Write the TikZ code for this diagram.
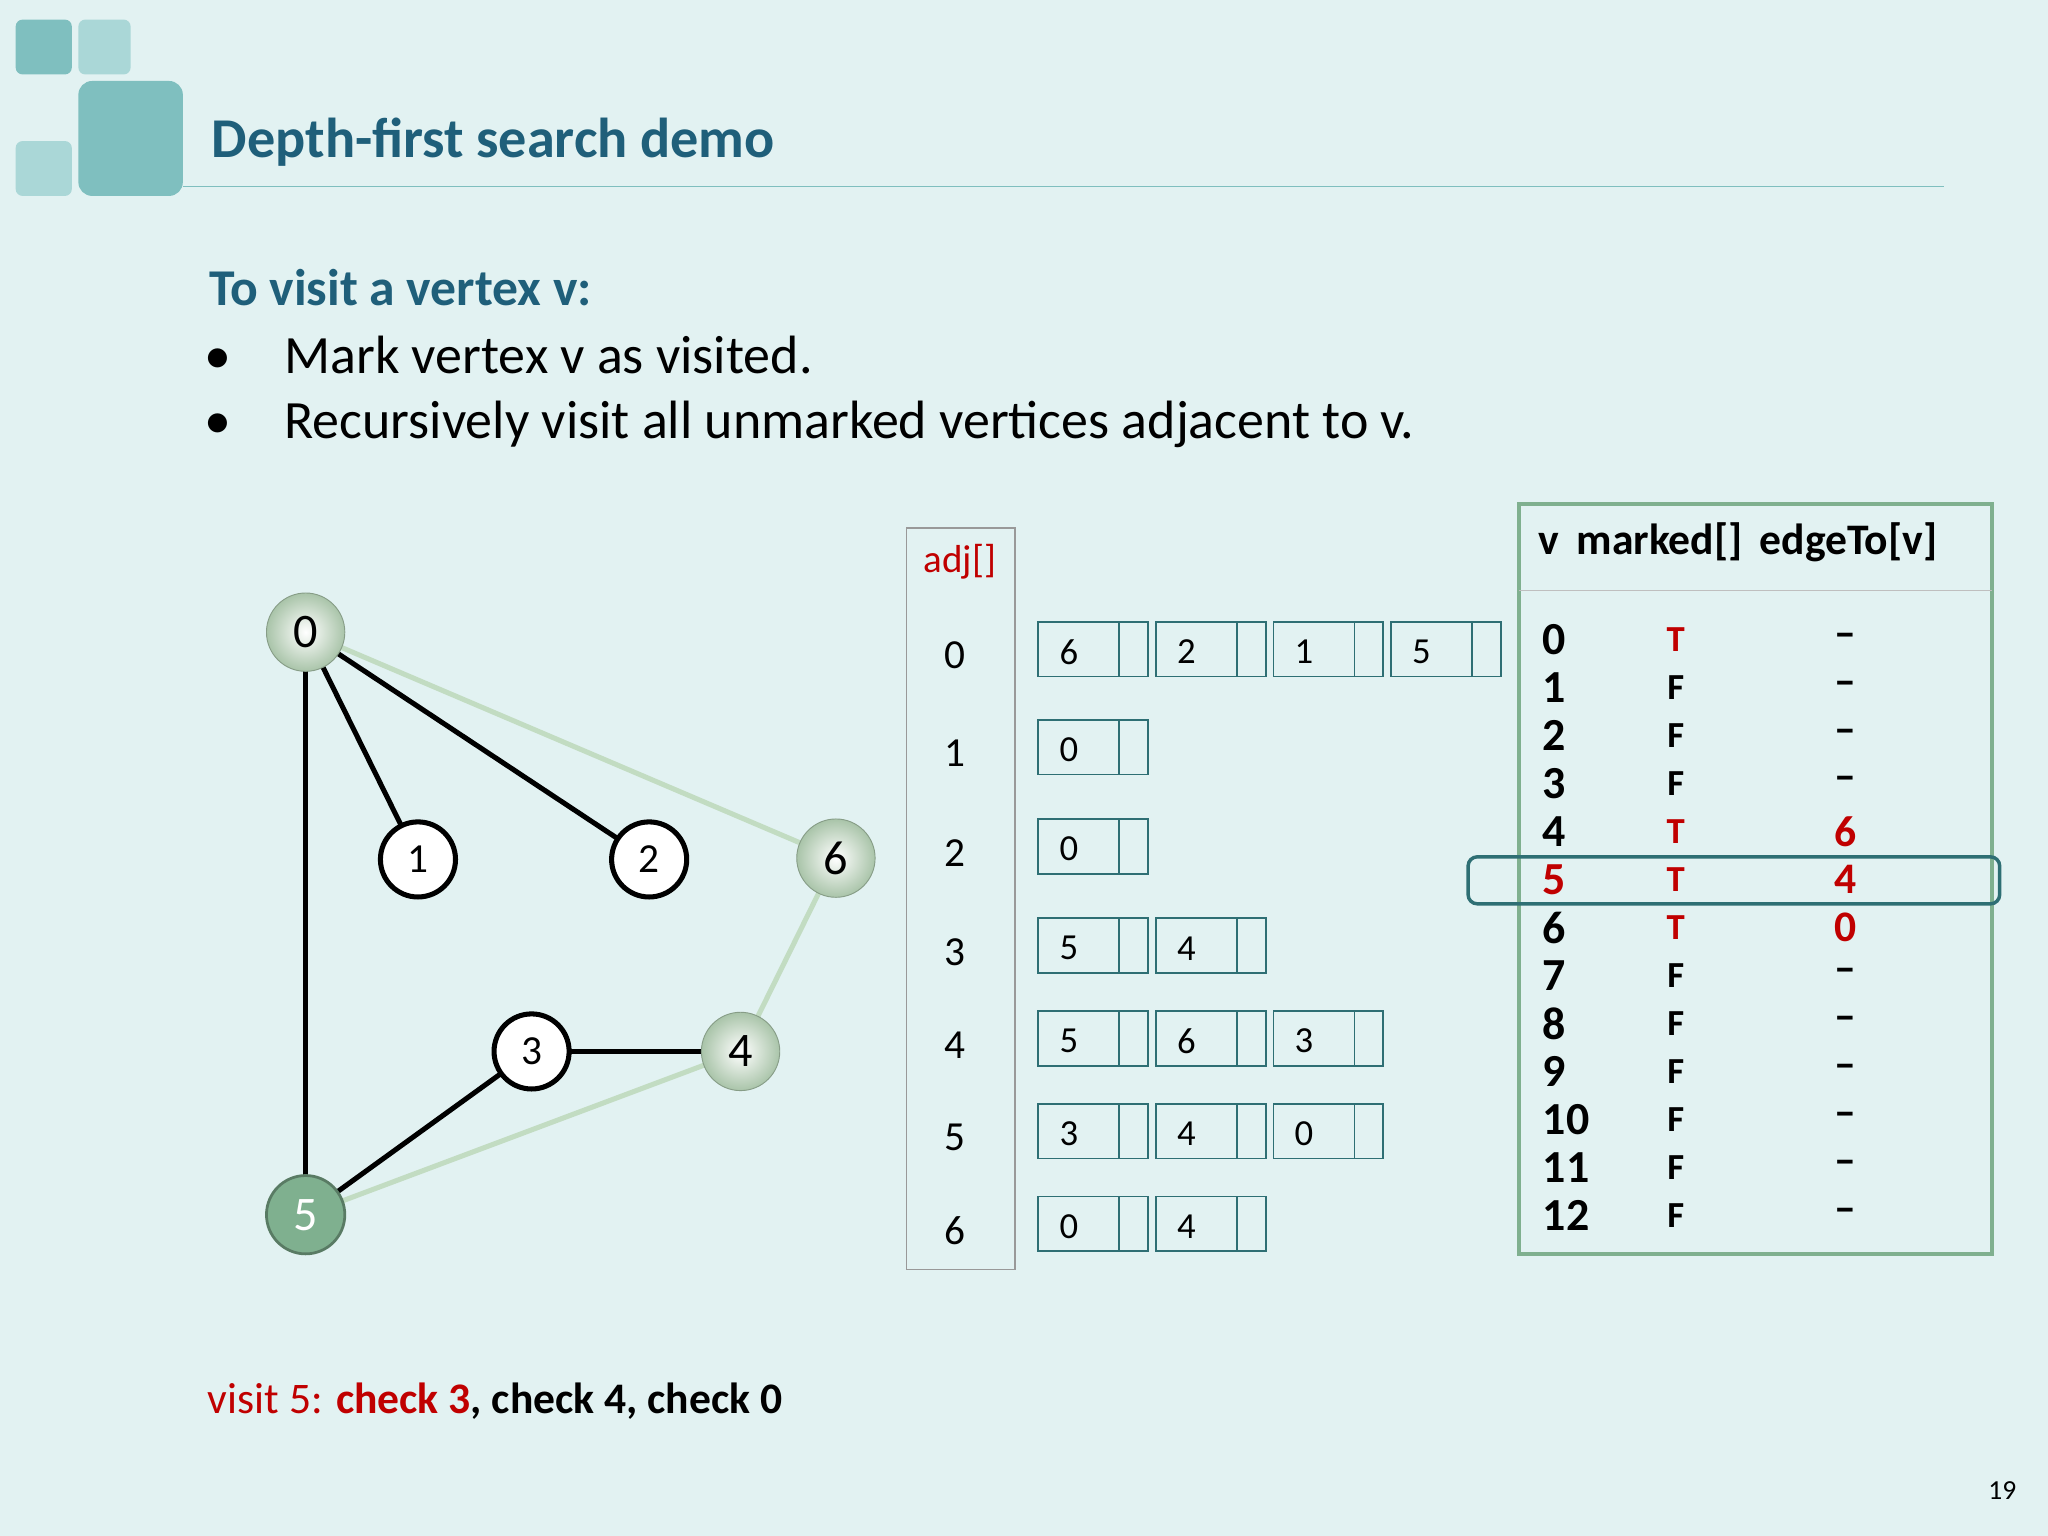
\documentclass[tikz,border=0pt]{standalone}
\usepackage{fontspec}
\setmainfont{Carlito}
\begin{document}
\begin{tikzpicture}[x=0.02cm,y=-0.02cm,
  wn/.style={circle,draw=black,line width=2.2pt,fill=white,minimum size=1.15cm,inner sep=0pt,font=\fontsize{18}{18}\selectfont},
  gn/.style={circle,shade,inner color=white,outer color=gnc,draw=gnc!80!black,line width=0.4pt,minimum size=1.2cm,inner sep=0pt,font=\fontsize{21}{21}\selectfont},
  be/.style={line width=2.2pt,black},
  le/.style={line width=2.2pt,lgc},
  cell/.style={draw=tealb,line width=0.8pt},
  idx/.style={font=\fontsize{18}{18}\selectfont},
  ce/.style={font=\fontsize{16}{16}\selectfont,anchor=west},
  tb/.style={font=\fontsize{19}{19}\selectfont\bfseries}]
\definecolor{bg}{HTML}{E2F2F2}
\definecolor{sq1}{HTML}{7FBFBF}
\definecolor{sq2}{HTML}{AAD7D7}
\definecolor{ttl}{HTML}{1F5F7A}
\definecolor{gnc}{HTML}{A9C4A9}
\definecolor{lgc}{HTML}{C2DCC2}
\definecolor{tealb}{HTML}{2E6F74}
\definecolor{rd}{HTML}{C00000}
\definecolor{grb}{HTML}{7FB08F}
\fill[bg] (0,0) rectangle (1568,1176);
\useasboundingbox (0,0) rectangle (1568,1176);
\fill[sq1,rounded corners=3pt] (12,15) rectangle (55,57);
\fill[sq2,rounded corners=3pt] (60,15) rectangle (100,57);
\fill[sq1,rounded corners=6pt] (60,62) rectangle (140,150);
\fill[sq2,rounded corners=3pt] (12,108) rectangle (55,150);
\draw[sq1,line width=0.6pt] (140,143) -- (1488,143);
\node[anchor=west,text=ttl,font=\fontsize{24.5}{24}\selectfont\bfseries] (title) at (156,109) {Depth-first search demo};
\node[anchor=west,text=ttl,font=\fontsize{22.5}{22}\selectfont\bfseries] (h) at (154,220) {To visit a vertex v:};
\node[anchor=west,font=\fontsize{23.5}{23}\selectfont] (b1) at (150,272) {\textbullet\hspace{0.82cm}Mark vertex v as visited.};
\node[anchor=west,font=\fontsize{23.5}{23}\selectfont] (b2) at (150,325) {\textbullet\hspace{0.82cm}Recursively visit all unmarked vertices adjacent to v.};
% graph
\coordinate (p0) at (234,484); \coordinate (p1) at (320,658); \coordinate (p2) at (497,658);
\coordinate (p6) at (640,657); \coordinate (p3) at (407,805); \coordinate (p4) at (567,805); \coordinate (p5) at (234,930);
\draw[le] (p0) -- (p6); \draw[le] (p6) -- (p4); \draw[le] (p5) -- (p4);
\draw[be] (p0) -- (p1); \draw[be] (p0) -- (p2); \draw[be] (p0) -- (p5);
\draw[be] (p3) -- (p4); \draw[be] (p5) -- (p3);
\node[gn] (n0) at (p0) {0};
\node[wn] (n1) at (p1) {1};
\node[wn] (n2) at (p2) {2};
\node[gn] (n6) at (p6) {6};
\node[wn] (n3) at (p3) {3};
\node[gn] (n4) at (p4) {4};
\node[circle,draw=grb!70!black,line width=1.2pt,fill=grb,minimum size=1.2cm,inner sep=0pt,text=white,font=\fontsize{21}{21}\selectfont] (n5) at (p5) {5};
% adj
\draw[draw=gray!80,line width=0.8pt] (694,404) rectangle (777,972);
\node[text=rd,font=\fontsize{17}{17}\selectfont] (adj) at (735,430) {adj[]};
\foreach \i/\y in {0/497,1/572,2/648,3/724,4/795,5/866,6/937}{\node[idx] (i\i) at (731,\y+5) {\i};}
\foreach \r/\y/\lst in {0/497/{6,2,1,5},1/572/{0},2/648/{0},3/724/{5,4},4/795/{5,6,3},5/866/{3,4,0},6/937/{0,4}}{
  \foreach \v [count=\k from 0] in \lst {
    \pgfmathsetmacro{\xx}{795+90*\k}
    \draw[cell] (\xx,\y-21) rectangle (\xx+62,\y+21);
    \draw[cell] (\xx+62,\y-21) rectangle (\xx+84,\y+21);
    \node[ce] (c\r\k) at (\xx+10,\y+2) {\v};
  }}
% table
\draw[grb,line width=1.5pt] (1163,386) rectangle (1525,960);
\draw[gray!50,line width=0.6pt] (1163,452) -- (1525,452);
\node[tb,anchor=west] (hd) at (1172,415) {v\, marked[]\, edgeTo[v]};
\foreach \v/\m/\e [count=\k from 0] in {0/T/--,1/F/--,2/F/--,3/F/--,4/T/6,5/T/4,6/T/0,7/F/--,8/F/--,9/F/--,10/F/--,11/F/--,12/F/--}{
  \pgfmathsetmacro{\yy}{490+36.7*\k}
  \ifnum\k=5 \def\vc{rd}\else\def\vc{black}\fi
  \ifnum\k=0 \def\mc{rd}\def\ec{black}\else\ifnum\k>3 \ifnum\k<7 \def\mc{rd}\def\ec{rd}\else\def\mc{black}\def\ec{black}\fi\else\def\mc{black}\def\ec{black}\fi\fi
  \node[anchor=west,text=\vc,font=\fontsize{20}{20}\selectfont\bfseries] (v\k) at (1175,\yy) {\v};
  \node[text=\mc,font=\fontsize{16}{16}\selectfont\bfseries] (m\k) at (1283,\yy) {\m};
  \node[text=\ec,font=\fontsize{19}{19}\selectfont\bfseries] (e\k) at (1413,\yy) {\e};
}
\draw[tealb,line width=1.5pt,rounded corners=4pt] (1124,656) rectangle (1531,692);
\node[anchor=west,font=\fontsize{19}{19}\selectfont] (bt) at (153,1073) {\textcolor{rd}{visit 5: \textbf{check 3}}\textbf{, check 4, check 0}};
\node[font=\fontsize{12}{12}\selectfont] (pg) at (1533,1141) {19};
\end{tikzpicture}
\end{document}
